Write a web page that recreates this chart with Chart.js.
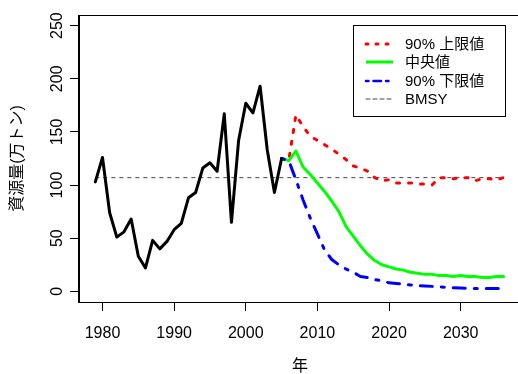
<!DOCTYPE html>
<html>
<head>
<meta charset="utf-8">
<script src="https://cdn.jsdelivr.net/npm/chart.js@4/dist/chart.umd.min.js"></script>
<style>
  html, body { margin: 0; padding: 0; background: #fff; overflow: hidden; }
  #wrap { width: 522px; height: 374px; }
</style>
</head>
<body>
<div id="wrap"><canvas id="stockChart" width="522" height="374"></canvas></div>
<script>
// observed stock (1979-2005)
const obsYears = [1979, 1980, 1981, 1982, 1983, 1984, 1985, 1986, 1987, 1988,
  1989, 1990, 1991, 1992, 1993, 1994, 1995, 1996, 1997, 1998,
  1999, 2000, 2001, 2002, 2003, 2004, 2005];
const obsValues = [103, 126, 74, 51, 56, 68, 33, 22, 48, 40,
  47, 58, 64, 88, 93, 116, 121, 113, 167, 65,
  142, 177, 168, 193, 133, 93, 125];

// projections (2005-2036)
const projYears = [2005, 2006, 2007, 2008, 2009, 2010, 2011, 2012, 2013, 2014,
  2015, 2016, 2017, 2018, 2019, 2020, 2021, 2022, 2023, 2024,
  2025, 2026, 2027, 2028, 2029, 2030, 2031, 2032, 2033, 2034,
  2035, 2036];
const upperValues = [125, 123, 166, 155, 146, 142, 138, 134, 129, 124,
  118, 116, 113, 107, 104, 105, 102, 102, 102, 101,
  101, 100, 107, 107, 106, 107, 107, 104, 106, 106,
  105, 107];
const medianValues = [125, 123, 132, 117, 110, 102, 94, 85, 75, 61,
  52, 43, 35, 29, 25, 23, 21, 20, 18, 17,
  16, 16, 15, 15, 14, 15, 14, 14, 13, 13,
  14, 14];
const lowerValues = [125, 123, 105, 86, 69, 54, 39, 30, 25, 21,
  18, 14, 13, 11, 10, 8, 7.5, 6.6, 6, 5.3,
  5, 4.7, 4.4, 3.8, 3.4, 3.1, 2.8, 2.8, 2.8, 2.8,
  2.8, 2.8];

const bmsyValue = 107;
const bmsyYears = [1979, 2036];

const xTicks = [1980, 1990, 2000, 2010, 2020, 2030];
const yTicks = [0, 50, 100, 150, 200, 250];
const seriesNames = ['90% 上限値', '中央値', '90% 下限値', 'BMSY'];
const xTitle = '年';
const yTitle = '資源量(万トン)';

const FONT = "'Liberation Sans', 'Noto Sans CJK JP', sans-serif";
Chart.defaults.font.family = FONT;
Chart.defaults.color = '#000';

const toPoints = (xs, ys) => xs.map((x, i) => ({ x: x, y: ys[i] }));

// legend entries: colour, width, dash
const legendStyles = [
  { color: '#ff0000', width: 3, dash: [2, 8] },
  { color: '#00ff00', width: 3, dash: [] },
  { color: '#0000ff', width: 2.5, dash: [2.5, 5, 7.5, 5] },
  { color: '#444444', width: 1, dash: [4, 3] }
];

// box round the plot region
const framePlugin = {
  id: 'frame',
  afterDraw(chart) {
    const { ctx, chartArea: a } = chart;
    ctx.save();
    ctx.strokeStyle = '#000';
    ctx.lineWidth = 1;
    ctx.strokeRect(Math.round(a.left) - 0.5, Math.round(a.top) + 0.5,
      Math.round(a.right - a.left), Math.round(a.bottom - a.top));
    ctx.restore();
  }
};

// R style y tick labels (rotated, parallel to axis) and axis titles
const axisTextPlugin = {
  id: 'axisText',
  afterDraw(chart) {
    const { ctx, chartArea: a } = chart;
    const yScale = chart.scales.y;
    ctx.save();
    ctx.fillStyle = '#000';
    ctx.font = '16px ' + FONT;
    ctx.textAlign = 'center';
    ctx.textBaseline = 'alphabetic';
    yTicks.forEach(v => {
      const py = yScale.getPixelForValue(v);
      ctx.save();
      ctx.translate(62, py);
      ctx.rotate(-Math.PI / 2);
      ctx.fillText(String(v), 0, 0);
      ctx.restore();
    });
    // x title
    ctx.textBaseline = 'middle';
    ctx.fillText(xTitle, 300, 367);
    // y title
    ctx.translate(18, (a.top + a.bottom) / 2);
    ctx.rotate(-Math.PI / 2);
    ctx.fillText(yTitle, 0, 0);
    ctx.restore();
  }
};

// legend box top right
const legendPlugin = {
  id: 'boxLegend',
  afterDraw(chart) {
    const { ctx } = chart;
    ctx.save();
    ctx.strokeStyle = '#000';
    ctx.lineWidth = 1;
    ctx.setLineDash([]);
    ctx.strokeRect(353.5, 25.5, 152, 91);
    ctx.font = '15px ' + FONT;
    ctx.textBaseline = 'middle';
    ctx.textAlign = 'left';
    const rows = [44, 62, 81, 99];
    seriesNames.forEach((name, i) => {
      const st = legendStyles[i];
      ctx.beginPath();
      ctx.strokeStyle = st.color;
      ctx.lineWidth = st.width;
      ctx.lineCap = st.dash.length ? 'round' : 'butt';
      ctx.setLineDash(st.dash);
      ctx.moveTo(366, rows[i]);
      ctx.lineTo(393, rows[i]);
      ctx.stroke();
      ctx.setLineDash([]);
      ctx.fillStyle = '#000';
      ctx.fillText(name, 405, rows[i] + 1);
    });
    ctx.restore();
  }
};

const lineBase = {
  pointRadius: 0,
  tension: 0,
  fill: false,
  borderCapStyle: 'round',
  borderJoinStyle: 'round'
};

new Chart(document.getElementById('stockChart'), {
  type: 'line',
  data: {
    datasets: [
      { ...lineBase, label: 'BMSY', data: toPoints(bmsyYears, [bmsyValue, bmsyValue]),
        borderColor: '#444444', borderWidth: 1, borderDash: [4, 4], borderCapStyle: 'butt', order: 5 },
      { ...lineBase, label: seriesNames[0], data: toPoints(projYears, upperValues),
        borderColor: '#ff0000', borderWidth: 3, borderDash: [3, 9], order: 4 },
      { ...lineBase, label: seriesNames[1], data: toPoints(projYears, medianValues),
        borderColor: '#00ff00', borderWidth: 3, order: 3 },
      { ...lineBase, label: seriesNames[2], data: toPoints(projYears, lowerValues),
        borderColor: '#0000ff', borderWidth: 3, borderDash: [3, 9, 12, 9], order: 2 },
      { ...lineBase, label: '資源量', data: toPoints(obsYears, obsValues),
        borderColor: '#000000', borderWidth: 3, order: 1 }
    ]
  },
  options: {
    responsive: false,
    animation: false,
    layout: { padding: { top: 15, right: 2, left: 0, bottom: 0 } },
    plugins: {
      legend: { display: false },
      tooltip: { enabled: false }
    },
    scales: {
      x: {
        type: 'linear',
        min: 1976.72,
        max: 2038.28,
        afterBuildTicks: s => { s.ticks = xTicks.map(v => ({ value: v })); },
        afterFit: s => { s.height = 72; },
        grid: { drawOnChartArea: false, drawTicks: true, tickLength: 9, color: '#000', lineWidth: 1 },
        border: { display: true, color: '#000', width: 1 },
        ticks: { color: '#000', font: { size: 16 }, padding: 13, maxRotation: 0, autoSkip: false,
          callback: v => String(v) }
      },
      y: {
        type: 'linear',
        min: -10,
        max: 260,
        afterBuildTicks: s => { s.ticks = yTicks.map(v => ({ value: v })); },
        afterFit: s => { s.width = 79; },
        grid: { drawOnChartArea: false, drawTicks: true, tickLength: 9, color: '#000', lineWidth: 1 },
        border: { display: true, color: '#000', width: 1 },
        ticks: { display: false }
      }
    }
  },
  plugins: [framePlugin, axisTextPlugin, legendPlugin]
});
</script>
</body>
</html>
